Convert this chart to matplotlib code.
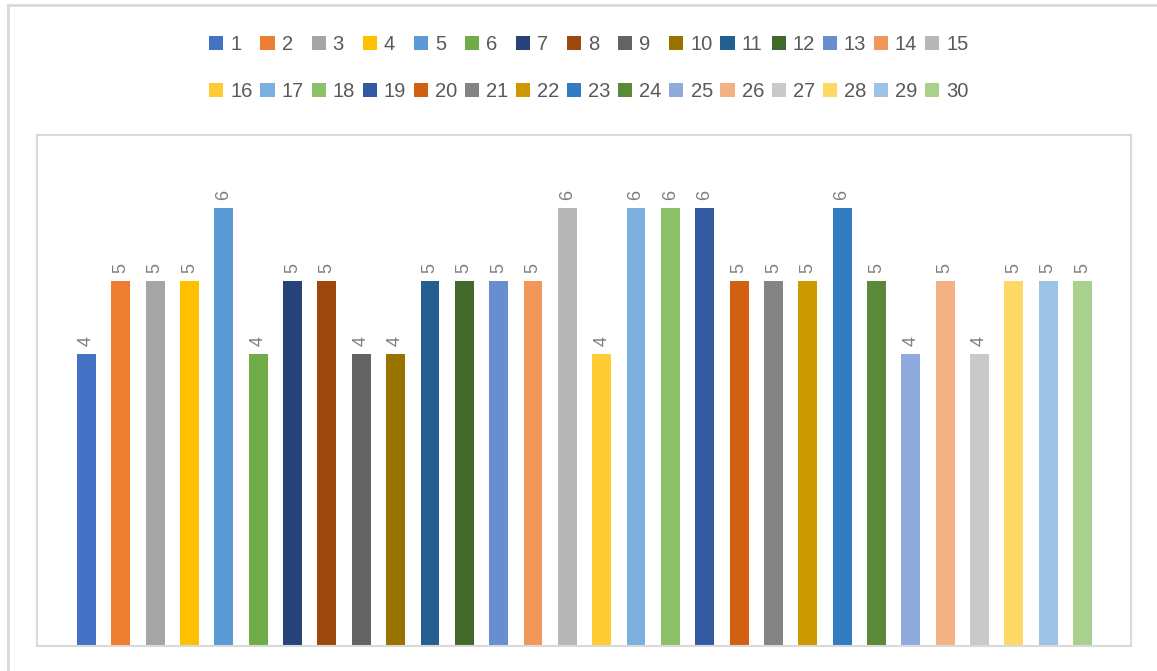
import matplotlib.pyplot as plt
from matplotlib.patches import Patch
from matplotlib.lines import Line2D

plt.rcParams['font.family'] = ['Liberation Sans', 'DejaVu Sans']

# categories and their values
labels = [str(i) for i in range(1, 31)]
values = [4, 5, 5, 5, 6, 4, 5, 5, 4, 4,
          5, 5, 5, 5, 6, 4, 6, 6, 6, 5,
          5, 5, 6, 5, 4, 5, 4, 5, 5, 5]
colors = ['#4472C4', '#ED7D31', '#A5A5A5', '#FFC000', '#5B9BD5', '#70AD47',
          '#264478', '#9E480E', '#636363', '#997300', '#255E91', '#43682B',
          '#698ED0', '#F1975A', '#B7B7B7', '#FFCD33', '#7CAFDD', '#8CC168',
          '#335AA1', '#D26012', '#848484', '#CC9A00', '#327DC2', '#5A8A39',
          '#8FAADC', '#F4B183', '#C9C9C9', '#FFD966', '#9DC3E6', '#A9D18E']

text_col = '#595959'
edge_col = '#D9D9D9'

fig = plt.figure(figsize=(11.57, 6.71), dpi=100)
ax = fig.add_axes([0.032, 0.0373, 0.9455, 0.7615])

x = list(range(len(values)))
bars = ax.bar(x, values, width=0.55, color=colors, zorder=2)

for b, v in zip(bars, values):
    ax.annotate(str(v), (b.get_x() + b.get_width() / 2, v),
                xytext=(0, 6), textcoords='offset points',
                rotation=90, ha='center', va='bottom',
                fontsize=13, color='#7F7F7F')

ax.set_xlim(-1.44, 30.41)
ax.set_ylim(0, 7)
ax.set_xticks([])
ax.set_yticks([])
for s in ax.spines.values():
    s.set_color(edge_col)
    s.set_linewidth(1.5)

# outer chart border (left and top edges)
fig.add_artist(Line2D([8 / 1157, 8 / 1157], [0, 1 - 5 / 671],
                      transform=fig.transFigure, color=edge_col, lw=2))
fig.add_artist(Line2D([8 / 1157, 1], [1 - 5 / 671, 1 - 5 / 671],
                      transform=fig.transFigure, color=edge_col, lw=2))

# legend fills column by column, so interleave the two rows
handles = [Patch(facecolor=c, edgecolor='none') for c in colors]
ncol = 15
order = [r * ncol + c for c in range(ncol) for r in range(2)]
fig.legend([handles[i] for i in order], [labels[i] for i in order],
           ncol=ncol, loc='upper center',
           bbox_to_anchor=(0.509, 0.975), frameon=False,
           fontsize=14.5, labelcolor=text_col,
           handlelength=0.7, handleheight=0.7, handletextpad=0.35,
           columnspacing=0.38, labelspacing=1.4)

fig.savefig('out.png', dpi=100)
